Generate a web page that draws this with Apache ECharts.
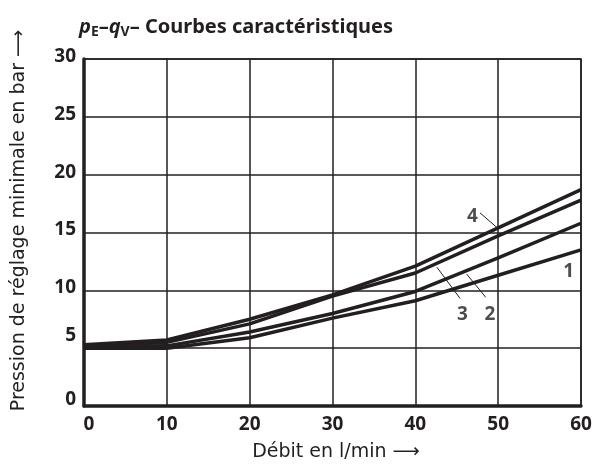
<!DOCTYPE html>
<html>
<head>
<meta charset="utf-8">
<script src="https://cdn.jsdelivr.net/npm/echarts@6/dist/echarts.min.js"></script>
<style>
  html, body { margin: 0; padding: 0; background: #fff; }
  #chartmain { width: 596px; height: 466px; }
</style>
</head>
<body>
<div id="chartmain"></div>
<script>
// débit en l/min
var flow = [0, 10, 20, 30, 40, 50, 60];
// pression en bar, courbes 1..4
var curve1 = [5.0, 5.0, 5.9, 7.6, 9.1, 11.3, 13.5];
var curve2 = [5.1, 5.2, 6.4, 8.0, 9.9, 12.8, 15.8];
var curve3 = [5.2, 5.5, 7.1, 9.5, 11.5, 14.7, 17.8];
var curve4 = [5.3, 5.7, 7.5, 9.6, 12.1, 15.4, 18.7];

// repères des courbes : [x, y, texte]
var tags = [
  [58.5, 11.6, '1'],
  [49.0, 7.9, '2'],
  [45.7, 7.9, '3'],
  [46.9, 16.4, '4']
];
// traits de rappel : [[x1, y1], [x2, y2]]
var leaders = [
  [[48.5, 9.4], [46.2, 11.4]],
  [[45.4, 9.3], [42.6, 12.0]],
  [[47.8, 16.7], [49.9, 15.4]]
];

var ink = '#231f20';
var font = 'Noto Sans';

function pairs(ys) {
  return flow.map(function (x, i) { return [x, ys[i]]; });
}

function curve(name, ys) {
  return {
    name: name,
    type: 'line',
    data: pairs(ys),
    symbol: 'none',
    smooth: false,
    lineStyle: { color: ink, width: 3.5 },
    z: 3
  };
}

var series = [
  curve('1', curve1),
  curve('2', curve2),
  curve('3', curve3),
  curve('4', curve4),
  {
    name: 'tags',
    type: 'scatter',
    symbolSize: 0,
    data: tags.map(function (t) { return { value: [t[0], t[1]], name: t[2] }; }),
    label: {
      show: true,
      position: 'inside',
      formatter: '{b}',
      color: ink,
      fontFamily: font,
      fontWeight: 'bold',
      fontSize: 19
    },
    silent: true,
    z: 4
  },
  {
    name: 'leaders',
    type: 'line',
    data: [],
    markLine: {
      silent: true,
      symbol: 'none',
      label: { show: false },
      lineStyle: { color: ink, width: 1, type: 'solid' },
      data: leaders.map(function (l) {
        return [{ coord: l[0] }, { coord: l[1] }];
      })
    }
  }
];

var nameRich = {
  t: { fontFamily: 'DejaVu Sans', fontSize: 19, color: ink },
  a: { fontFamily: 'DejaVu Sans', fontSize: 19, color: ink }
};

var option = {
  backgroundColor: '#fff',
  animation: false,
  title: {
    text: '{it|p}{sub|E}{n|–}{it|q}{sub|V}{n|– Courbes caractéristiques}',
    left: 74,
    top: 10,
    textStyle: {
      rich: {
        it: { fontFamily: font, fontSize: 20, fontWeight: 'bold', fontStyle: 'italic', color: ink },
        sub: { fontFamily: font, fontSize: 14, fontWeight: 'bold', color: ink, padding: [10, 0, 0, 0] },
        n: { fontFamily: font, fontSize: 20, fontWeight: 'bold', color: ink }
      }
    }
  },
  grid: {
    left: 84,
    right: 15,
    top: 59,
    bottom: 60,
    outerBoundsMode: 'none',
    containLabel: false,
    show: true,
    borderColor: ink,
    borderWidth: 1.5
  },
  xAxis: {
    type: 'value',
    min: 0,
    max: 60,
    interval: 10,
    name: '{t|Débit en l/min }{a|⟶}',
    nameLocation: 'middle',
    nameGap: 37,
    nameTextStyle: { rich: nameRich, padding: [0, 0, 0, 7] },
    axisLine: { show: true, lineStyle: { color: ink, width: 3.5 } },
    axisTick: { show: false },
    axisLabel: {
      margin: 9,
      fontFamily: font,
      fontSize: 19,
      fontWeight: 'bold',
      color: ink,
      formatter: function (v) { return v === 0 ? '{z|0}' : String(v); },
      rich: { z: { fontFamily: font, fontSize: 19, fontWeight: 'bold', color: ink, padding: [0, 0, 0, 10] } }
    },
    splitLine: { show: true, lineStyle: { color: ink, width: 1.5 } }
  },
  yAxis: {
    type: 'value',
    min: 0,
    max: 30,
    interval: 5,
    name: '{t|Pression de réglage minimale en bar }{a|⟶}',
    nameLocation: 'middle',
    nameRotate: 90,
    nameGap: 55,
    nameTextStyle: { rich: nameRich, padding: [0, 0, 0, 24] },
    axisLine: { show: true, lineStyle: { color: ink, width: 3.5 } },
    axisTick: { show: false },
    axisLabel: {
      margin: 8,
      fontFamily: font,
      fontSize: 19,
      fontWeight: 'bold',
      color: ink,
      formatter: function (v) {
        if (v === 5) return '{hi|5}';
        if (v === 0) return '{mid|0}';
        return '{lo|' + v + '}';
      },
      rich: {
        hi: { fontFamily: font, fontSize: 19, fontWeight: 'bold', color: ink, padding: [0, 0, 26, 0] },
        mid: { fontFamily: font, fontSize: 19, fontWeight: 'bold', color: ink, padding: [0, 0, 12, 0] },
        lo: { fontFamily: font, fontSize: 19, fontWeight: 'bold', color: ink, padding: [0, 0, 5, 0] }
      }
    },
    splitLine: { show: true, lineStyle: { color: ink, width: 1.5 } }
  },
  series: series
};

var myChart = echarts.init(document.getElementById('chartmain'));
myChart.setOption(option);
</script>
</body>
</html>
